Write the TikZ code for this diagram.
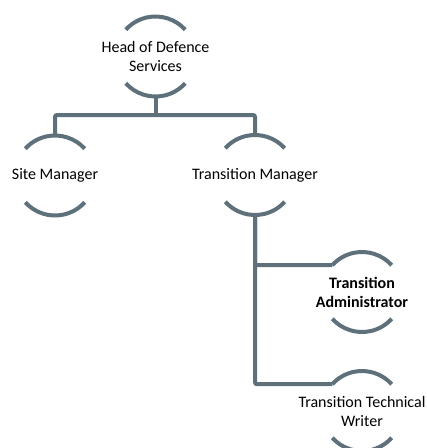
\documentclass[tikz,border=0pt]{standalone}
\usepackage{fontspec}
\setmainfont{Carlito}
\definecolor{linecol}{RGB}{94,112,122}
\tikzset{
  ring/.style={circle, minimum size=80pt, inner sep=0pt, outer sep=0pt},
  lbl/.style={inner sep=0pt, align=center, font=\fontsize{16}{19}\selectfont, text=black},
  arcline/.style={draw=linecol, line width=4pt},
  conn/.style={draw=linecol, line width=4pt, rounded corners=2pt},
}
\begin{document}
\begin{tikzpicture}[x=1pt,y=1pt]
\useasboundingbox (0,0) rectangle (427,-448);
\clip (0,0) rectangle (427,-448);
\node[ring] (hds) at (155.5,-56.5) {};
\node[ring] (sm) at (55,-175.5) {};
\node[ring] (tm) at (255,-175) {};
\node[ring] (ta) at (362,-292) {};
\node[ring] (tw) at (362,-411) {};
\node[lbl] (hdsT) at (hds) {Head of Defence\\Services};
\node[lbl] (smT) at (sm) {Site Manager};
\node[lbl] (tmT) at (tm) {Transition Manager};
\node[lbl, font=\fontsize{16}{19}\selectfont\bfseries] (taT) at (ta) {Transition\\Administrator};
\node[lbl] (twT) at (tw) {Transition Technical\\Writer};
\foreach \n in {hds,sm,tm,ta,tw}{
  \draw[arcline] (\n.42) arc[start angle=42, end angle=138, radius=40];
  \draw[arcline] (\n.222) arc[start angle=222, end angle=318, radius=40];
}
\coordinate (bus) at (155.5,-115);
\draw[conn] (hds.south) -- (bus);
\draw[conn] (sm.north) |- (bus) -| (tm.north);
\draw[conn] (tm.south) |- (ta.138);
\draw[conn] (tm.south) |- (tw.138);
\end{tikzpicture}
\end{document}
